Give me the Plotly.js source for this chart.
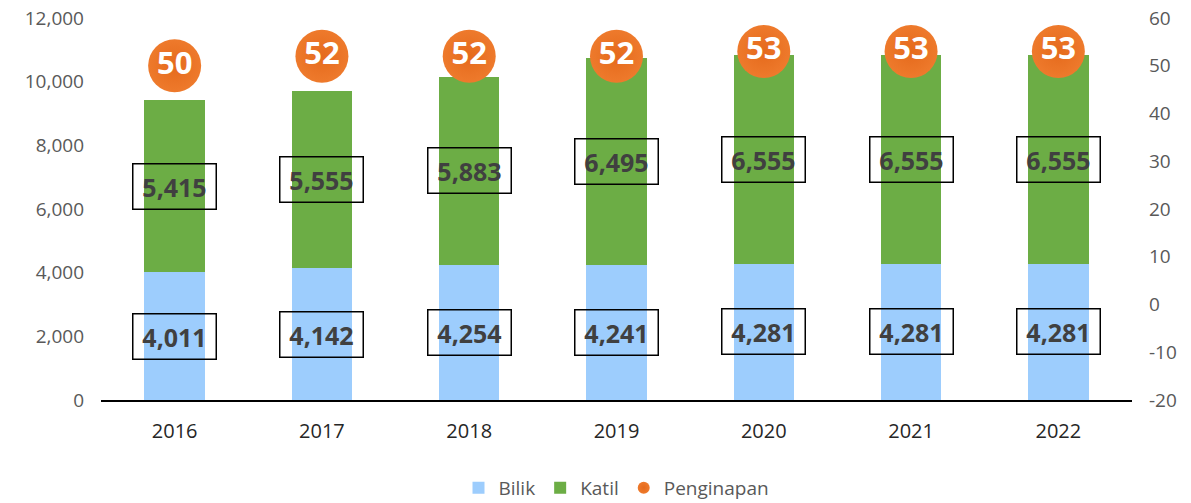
<!DOCTYPE html>
<html>
<head>
<meta charset="utf-8">
<script src="https://cdn.plot.ly/plotly-3.0.1.min.js"></script>
<style>html,body{margin:0;padding:0;background:#fff;}#chart{width:1191px;height:503px;}</style>
</head>
<body>
<div id="chart"></div>
<script>
const years = [2016, 2017, 2018, 2019, 2020, 2021, 2022];
const yearLabels = ['2016','2017','2018','2019','2020','2021','2022'];
const bilik = [4011, 4142, 4254, 4241, 4281, 4281, 4281];
const katil = [5415, 5555, 5883, 6495, 6555, 6555, 6555];
const penginapan = [50, 52, 52, 52, 53, 53, 53];
const rightTicks = [-20, -10, 0, 10, 20, 30, 40, 50, 60];
const rightTickLabels = ['-20','-10','0','10','20','30','40','50','60'];

const FONT = 'Open Sans, Noto Sans, sans-serif';
const fmt = v => v.toLocaleString('en-US');

const traces = [
  {type:'bar', name:'Bilik', x:years, y:bilik, marker:{color:'#9DCDFD'}, width:0.41},
  {type:'bar', name:'Katil', x:years, y:katil, marker:{color:'#6CAD45'}, width:0.41},
  {type:'scatter', mode:'markers', name:'Penginapan', x:years, y:penginapan, yaxis:'y2',
   marker:{size:53, color:'#EE7A2C', gradient:{type:'radial', color:'#E56A1C'}, line:{width:0}}},
  {type:'scatter', mode:'text', x:years, y:penginapan, yaxis:'y2', showlegend:false,
   text:penginapan.map(String), textposition:'middle center',
   textfont:{family:FONT, size:31, color:'#ffffff', weight:700}, hoverinfo:'skip'}
];

const annotations = [];
years.forEach((yr,i)=>{
  annotations.push({x:yr, y:bilik[i]/2, xref:'x', yref:'y', text:'<b>'+fmt(bilik[i])+'</b>', showarrow:false,
    font:{family:FONT, size:25, color:'#404040'}, bordercolor:'#000', borderwidth:1.5, borderpad:5, width:72, height:34});
  annotations.push({x:yr, y:bilik[i]+katil[i]/2, xref:'x', yref:'y', text:'<b>'+fmt(katil[i])+'</b>', showarrow:false,
    font:{family:FONT, size:25, color:'#404040'}, bordercolor:'#000', borderwidth:1.5, borderpad:5, width:72, height:34});
});

const layout = {
  width:1191, height:503,
  margin:{l:101, r:59, t:18, b:103, autoexpand:false},
  barmode:'stack',
  paper_bgcolor:'#fff', plot_bgcolor:'#fff',
  font:{family:FONT, color:'#595959'},
  xaxis:{type:'linear', range:[2015.5, 2022.5], tickvals:years, ticktext:yearLabels,
    showline:true, linecolor:'#000', linewidth:1.5, ticks:'', showgrid:false, zeroline:false,
    tickfont:{family:FONT, size:20, color:'#262626'}, ticklabelstandoff:12},
  yaxis:{range:[0,12000], dtick:2000, tickformat:',', showgrid:false, zeroline:false, showline:false,
    tickfont:{family:FONT, size:19, color:'#595959'}, ticklabelstandoff:16},
  yaxis2:{range:[-20,60], tickvals:rightTicks, ticktext:rightTickLabels, overlaying:'y', side:'right',
    showgrid:false, zeroline:false, showline:false,
    tickfont:{family:FONT, size:19, color:'#595959'}, ticklabelstandoff:16},
  legend:{orientation:'h', x:0.5, xanchor:'center', y:-0.23, yanchor:'middle',
    font:{family:FONT, size:19, color:'#595959'}, itemsizing:'constant', traceorder:'normal'},
  annotations:annotations,
  showlegend:true
};

Plotly.newPlot('chart', traces, layout, {displayModeBar:false, staticPlot:true});
</script>
</body>
</html>
